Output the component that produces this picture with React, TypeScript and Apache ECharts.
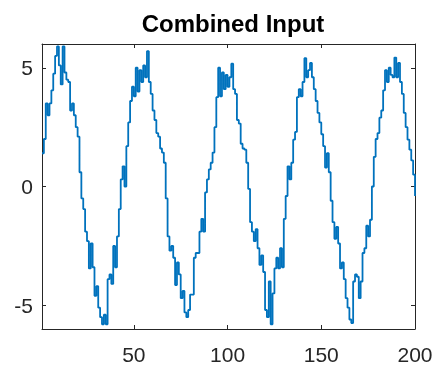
import React, { useEffect, useRef } from "react";
import * as echarts from "echarts";

// Combined input signal, sample index 1..200
const values: number[] = [
  1.4, 2.0, 3.5, 3.0, 3.5, 4.05, 4.75, 5.5, 5.9, 5.1,
  4.3, 5.9, 4.8, 4.5, 4.4, 3.2, 3.5, 3.0, 2.5, 2.1,
  0.6, -0.5, -0.95, -1.9, -2.3, -3.45, -2.4, -3.4, -4.6, -4.2,
  -5.1, -5.5, -5.8, -5.4, -5.8, -3.9, -3.7, -4.1, -2.5, -3.4,
  -2.1, -0.95, 0.3, 0.85, 0.0, 1.7, 2.7, 3.6, 4.2, 3.8,
  5.0, 4.0, 4.9, 4.4, 5.1, 4.6, 5.7, 4.4, 3.9, 3.2,
  2.8, 2.25, 2.1, 1.6, 1.43, 1.0, -0.5, -2.1, -2.7, -2.5,
  -3.0, -4.15, -3.2, -3.7, -4.7, -4.4, -5.3, -5.5, -5.2, -4.55,
  -4.55, -3.0, -2.8, -2.8, -1.9, -1.36, -1.9, -0.25, 0.3, 0.72,
  1.0, 1.43, 2.5, 3.76, 5.0, 3.8, 4.8, 4.1, 4.7, 4.2,
  4.6, 5.17, 4.1, 3.9, 2.8, 2.65, 1.8, 1.6, 1.55, 1.0,
  -0.1, -1.5, -1.9, -2.3, -1.8, -2.6, -3.3, -2.9, -3.6, -5.2,
  -5.5, -4.0, -5.8, -4.5, -3.45, -3.0, -3.45, -2.6, -3.4, -1.36,
  -0.4, 0.85, 0.3, 1.0, 1.97, 2.3, 3.76, 4.1, 3.8, 4.4,
  5.4, 4.6, 4.9, 5.2, 4.6, 4.1, 3.6, 3.1, 2.7, 2.2,
  1.7, 0.8, 1.4, 0.6, -0.6, -1.5, -2.2, -1.7, -2.4, -3.45,
  -3.2, -3.9, -4.7, -5.1, -5.6, -5.75, -4.0, -3.7, -3.8, -4.7,
  -4.0, -2.8, -2.6, -1.65, -2.1, -1.4, 0.0, 1.25, 2.0, 2.25,
  2.9, 3.2, 4.05, 4.9, 4.4, 5.0, 4.7, 4.6, 5.43, 4.6,
  5.2, 4.4, 3.9, 3.1, 2.5, 1.97, 1.55, 1.1, 0.5, -0.4,
];

const xTicks = [50, 100, 150, 200];
const yTicks = [-5, 0, 5];
const xRange = [1, 200];
const yRange = [-6, 6];
const titleText = "Combined Input";

export default function App() {
  const ref = useRef<HTMLDivElement>(null);

  useEffect(() => {
    if (!ref.current) return;
    const chart = echarts.init(ref.current, null, { renderer: "svg" });
    const axisColor = "#262626";
    const font = "'Liberation Sans', Arial, Helvetica, sans-serif";
    const lineStyle = { color: axisColor, width: 1 };

    const xAxisBase = {
      type: "value" as const,
      min: xRange[0],
      max: xRange[1],
      splitLine: { show: false },
      axisLine: { show: true, onZero: false, lineStyle },
      axisTick: { show: true, inside: true, length: 4, customValues: xTicks, lineStyle },
    };
    const yAxisBase = {
      type: "value" as const,
      min: yRange[0],
      max: yRange[1],
      splitLine: { show: false },
      axisLine: { show: true, onZero: false, lineStyle },
      axisTick: { show: true, inside: true, length: 4, customValues: yTicks, lineStyle },
    };

    chart.setOption({
      animation: false,
      title: {
        text: titleText,
        left: 228,
        top: 6,
        textAlign: "center",
        textStyle: {
          fontFamily: font,
          fontSize: 24,
          fontWeight: "bold",
          color: "#000000",
        },
      },
      grid: { left: 42, right: 21, top: 44, bottom: 42, show: false },
      xAxis: [
        {
          ...xAxisBase,
          position: "bottom",
          axisLabel: {
            show: true,
            customValues: xTicks,
            margin: 15,
            fontFamily: font,
            fontSize: 21,
            color: axisColor,
          },
        },
        {
          ...xAxisBase,
          position: "top",
          axisLabel: { show: false },
        },
      ],
      yAxis: [
        {
          ...yAxisBase,
          position: "left",
          axisLabel: {
            show: true,
            customValues: yTicks,
            margin: 9,
            fontFamily: font,
            fontSize: 21,
            color: axisColor,
          },
        },
        {
          ...yAxisBase,
          position: "right",
          axisLabel: { show: false },
        },
      ],
      series: [
        {
          type: "line",
          xAxisIndex: 0,
          yAxisIndex: 0,
          data: values.map((v, i) => [i + 1, v]),
          step: "end",
          symbol: "none",
          showSymbol: false,
          lineStyle: { color: "#0072BD", width: 1.8 },
        },
      ],
    });

    return () => chart.dispose();
  }, []);

  return (
    <div
      ref={ref}
      style={{ position: "fixed", left: 0, top: 0, width: 436, height: 371 }}
    />
  );
}
